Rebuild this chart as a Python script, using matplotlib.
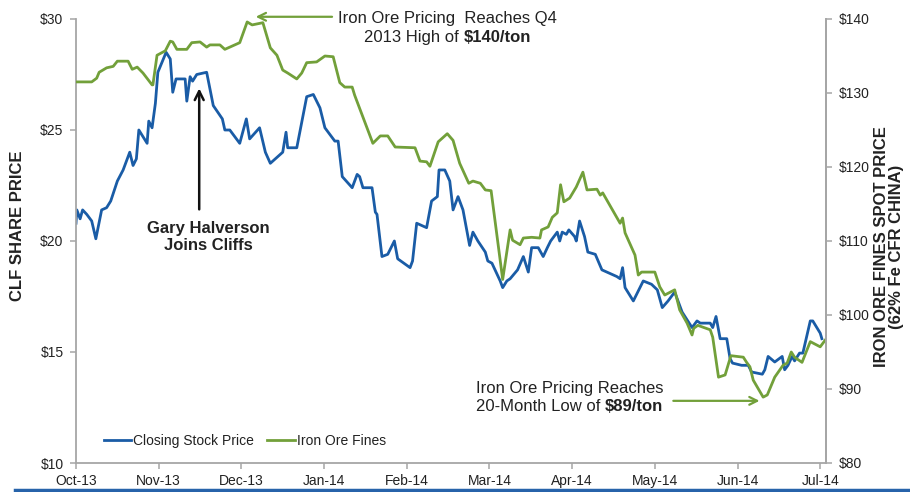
import matplotlib
matplotlib.use("Agg")
import matplotlib.pyplot as plt
from matplotlib.lines import Line2D

plt.rcParams["font.family"] = ["Liberation Sans", "DejaVu Sans"]

# x values are months since 1 Oct 2013 (ticks are evenly spaced per month)
month_labels = ["Oct-13", "Nov-13", "Dec-13", "Jan-14", "Feb-14",
                "Mar-14", "Apr-14", "May-14", "Jun-14", "Jul-14"]

# CLF closing stock price ($, left axis)
stock_t = [0.00, 0.01, 0.05, 0.08, 0.13, 0.19, 0.24, 0.31, 0.37, 0.42,
           0.50, 0.57, 0.65, 0.69, 0.73, 0.76, 0.86, 0.88, 0.92, 0.96,
           0.99, 1.09, 1.14, 1.17, 1.21, 1.32, 1.34, 1.38, 1.41, 1.46,
           1.58, 1.66, 1.77, 1.80, 1.86, 1.98, 2.06, 2.10, 2.22, 2.29,
           2.35, 2.50, 2.54, 2.56, 2.67, 2.79, 2.87, 2.95, 3.01, 3.13,
           3.17, 3.22, 3.34, 3.40, 3.43, 3.47, 3.58, 3.62, 3.64, 3.70,
           3.77, 3.85, 3.89, 4.04, 4.07, 4.12, 4.24, 4.30, 4.37, 4.39,
           4.46, 4.52, 4.56, 4.62, 4.68, 4.76, 4.80, 4.86, 4.95, 4.98,
           5.03, 5.13, 5.16, 5.21, 5.25, 5.34, 5.41, 5.47, 5.51, 5.59,
           5.65, 5.70, 5.74, 5.82, 5.85, 5.88, 5.93, 5.96, 6.03, 6.05,
           6.09, 6.15, 6.19, 6.28, 6.36, 6.54, 6.58, 6.61, 6.64, 6.74,
           6.86, 6.96, 7.03, 7.09, 7.16, 7.24, 7.33, 7.45, 7.51, 7.55,
           7.67, 7.70, 7.74, 7.79, 7.87, 7.91, 7.94, 8.05, 8.13, 8.17,
           8.30, 8.33, 8.37, 8.45, 8.54, 8.57, 8.61, 8.66, 8.69, 8.75,
           8.79, 8.88, 8.91, 9.00, 9.02]
stock_price = [20.8, 21.4, 21.0, 21.4, 21.2, 20.9, 20.1, 21.4, 21.5, 21.8,
               22.7, 23.2, 24.0, 23.4, 23.7, 25.0, 24.4, 25.4, 25.1, 26.2,
               27.6, 28.5, 28.2, 26.7, 27.3, 27.3, 26.3, 27.4, 27.2, 27.5,
               27.6, 26.1, 25.5, 25.0, 25.0, 24.4, 25.5, 24.6, 25.1, 24.0,
               23.5, 24.0, 24.9, 24.2, 24.2, 26.5, 26.6, 26.0, 25.1, 24.5,
               24.5, 22.9, 22.4, 23.0, 22.9, 22.4, 22.4, 21.3, 21.2, 19.3,
               19.4, 20.0, 19.2, 18.8, 19.1, 20.8, 20.6, 21.8, 22.0, 23.2,
               23.2, 22.7, 21.4, 22.0, 21.4, 19.8, 20.4, 20.0, 19.5, 19.1,
               19.0, 18.2, 17.9, 18.2, 18.3, 18.7, 19.3, 18.6, 19.7, 19.7,
               19.3, 19.7, 20.0, 20.4, 20.0, 20.4, 20.3, 20.5, 20.2, 20.0,
               20.9, 20.2, 19.5, 19.4, 18.7, 18.4, 18.3, 18.8, 17.9, 17.3,
               18.2, 18.05, 17.8, 17.0, 17.3, 17.7, 16.8, 16.1, 16.4, 16.3,
               16.3, 16.1, 16.6, 15.6, 15.6, 14.7, 14.5, 14.4, 14.4, 14.1,
               14.0, 14.2, 14.8, 14.55, 14.8, 14.2, 14.4, 14.8, 14.6, 14.95,
               14.95, 16.4, 16.4, 15.85, 15.6]

# iron ore fines spot price ($/ton, right axis)
ore_t = [0.00, 0.19, 0.25, 0.28, 0.37, 0.45, 0.50, 0.63, 0.68, 0.74,
         0.81, 0.92, 0.93, 0.98, 1.08, 1.14, 1.17, 1.22, 1.34, 1.40,
         1.50, 1.58, 1.62, 1.74, 1.80, 1.86, 1.98, 2.07, 2.13, 2.26,
         2.35, 2.43, 2.50, 2.56, 2.67, 2.73, 2.79, 2.91, 3.01, 3.11,
         3.19, 3.25, 3.34, 3.37, 3.59, 3.68, 3.77, 3.86, 4.10, 4.16,
         4.24, 4.28, 4.38, 4.49, 4.56, 4.64, 4.75, 4.80, 4.89, 4.95,
         5.02, 5.16, 5.25, 5.28, 5.37, 5.41, 5.51, 5.61, 5.63, 5.71,
         5.76, 5.82, 5.86, 5.90, 5.97, 6.05, 6.13, 6.18, 6.30, 6.34,
         6.37, 6.58, 6.61, 6.64, 6.76, 6.80, 6.84, 7.00, 7.06, 7.12,
         7.24, 7.30, 7.39, 7.45, 7.47, 7.52, 7.67, 7.70, 7.77, 7.85,
         7.92, 8.07, 8.11, 8.15, 8.19, 8.31, 8.36, 8.45, 8.55, 8.60,
         8.65, 8.69, 8.78, 8.88, 9.00, 9.06]
ore_price = [131.5, 131.5, 132.0, 132.8, 133.4, 133.6, 134.3, 134.3, 133.2, 133.5,
             132.7, 131.1, 131.1, 135.1, 135.7, 137.0, 136.9, 135.9, 135.9, 136.8,
             136.9, 136.2, 136.5, 136.5, 135.9, 136.2, 136.8, 139.6, 139.2, 139.5,
             136.1, 135.1, 133.1, 132.7, 131.9, 132.7, 134.1, 134.2, 135.0, 134.9,
             131.4, 130.8, 130.8, 129.7, 123.2, 124.2, 124.2, 122.7, 122.6, 120.8,
             120.7, 120.1, 123.4, 124.5, 123.6, 120.5, 117.8, 118.1, 117.8, 116.9,
             116.8, 104.8, 111.5, 110.1, 109.5, 110.4, 110.5, 110.4, 111.5, 111.9,
             113.2, 113.8, 117.6, 115.3, 115.8, 117.3, 119.3, 116.9, 117.0, 116.2,
             116.5, 112.4, 113.1, 111.1, 108.1, 105.4, 105.8, 105.8, 103.8, 102.7,
             103.4, 100.7, 98.9, 97.3, 98.2, 98.6, 98.0, 97.0, 91.6, 91.9,
             94.5, 94.3, 93.6, 93.0, 91.2, 88.9, 89.2, 91.6, 93.2, 93.5,
             95.0, 94.3, 93.6, 96.4, 95.7, 96.6]

left_ticks = [10, 15, 20, 25, 30]
right_ticks = [80, 90, 100, 110, 120, 130, 140]

blue = "#1a5ca6"
green = "#72a03a"
axis_grey = "#a6a6a6"
text_col = "#222222"

W, H = 910, 492
fig = plt.figure(figsize=(W / 100, H / 100), dpi=100)
ax = fig.add_axes([76 / W, 1 - 463 / H, 750 / W, 444 / H])
ax2 = ax.twinx()

l1, = ax.plot(stock_t, stock_price, color=blue, lw=2.0, label="Closing Stock Price")
l2, = ax2.plot(ore_t, ore_price, color=green, lw=2.0, label="Iron Ore Fines")

ax.set_xlim(0, 9.07)
ax.set_ylim(10, 30)
ax2.set_ylim(80, 140)
ax.set_xticks(range(len(month_labels)))
ax.set_xticklabels(month_labels)
ax.set_yticks(left_ticks)
ax.set_yticklabels(["$%d" % v for v in left_ticks])
ax2.set_yticks(right_ticks)
ax2.set_yticklabels(["$%d" % v for v in right_ticks])

for a in (ax, ax2):
    a.spines["top"].set_visible(False)
    for s in ("left", "right", "bottom"):
        a.spines[s].set_color(axis_grey)
        a.spines[s].set_linewidth(1.3)
    a.tick_params(colors=axis_grey, labelcolor=text_col, labelsize=10,
                  length=4, width=1.1, direction="out", pad=5)
ax2.spines["left"].set_visible(False)
ax2.spines["bottom"].set_visible(False)
ax.tick_params(axis="x", pad=4)

fig.text(18 / W, 1 - 226 / H, "CLF SHARE PRICE", rotation=90, ha="center", va="center",
         fontsize=12, fontweight="bold", color=text_col)
fig.text(889 / W, 1 - 247 / H, "IRON ORE FINES SPOT PRICE\n(62% Fe CFR CHINA)", rotation=90,
         ha="center", va="center", fontsize=12, fontweight="bold", color=text_col,
         linespacing=1.05, multialignment="center")

leg = ax2.legend(handles=[l1, l2], loc="lower left", bbox_to_anchor=(0.02, 0.005),
                 ncol=2, frameon=False, fontsize=10, handlelength=2.0,
                 handletextpad=0.15, columnspacing=0.9)
for t in leg.get_texts():
    t.set_color(text_col)

# Q4 high annotation
ax2.annotate("", xy=(2.14, 140.3), xytext=(3.13, 140.3),
             arrowprops=dict(arrowstyle="->", color=green, lw=1.6, mutation_scale=14),
             annotation_clip=False)
fig.text(447 / W, 1 - 19 / H, "Iron Ore Pricing  Reaches Q4", ha="center", va="center",
         fontsize=12, color=text_col)
t_hi = fig.text(364 / W, 1 - 42 / H, "2013 High of ", ha="left", va="baseline",
                fontsize=12, color=text_col)
ax.annotate("$140/ton", xy=(1, 1 - 42 / H), xycoords=(t_hi, "figure fraction"),
            ha="left", va="baseline", fontsize=12, fontweight="bold", color=text_col)

# Gary Halverson annotation
ax.annotate("", xy=(1.49, 27.0), xytext=(1.49, 21.3),
            arrowprops=dict(arrowstyle="->", color="#111111", lw=1.8, mutation_scale=16))
fig.text(208 / W, 1 - 237 / H, "Gary Halverson\nJoins Cliffs", ha="center", va="center",
         fontsize=12, fontweight="bold", color=text_col, linespacing=1.2)

# 20-month low annotation
ax2.annotate("", xy=(8.30, 88.4), xytext=(7.19, 88.4),
             arrowprops=dict(arrowstyle="->", color=green, lw=1.6, mutation_scale=14))
fig.text(476 / W, 1 - 389 / H, "Iron Ore Pricing Reaches", ha="left", va="center",
         fontsize=12, color=text_col)
t_lo = fig.text(476 / W, 1 - 411 / H, "20-Month Low of ", ha="left", va="baseline",
                fontsize=12, color=text_col)
ax.annotate("$89/ton", xy=(1, 1 - 411 / H), xycoords=(t_lo, "figure fraction"),
            ha="left", va="baseline", fontsize=12, fontweight="bold", color=text_col)

# slide footer rule
fig.add_artist(Line2D([15 / W, 1.0], [1 - 489.5 / H] * 2, color="#2763aa", lw=2.5))

fig.savefig("out.png", dpi=100)
